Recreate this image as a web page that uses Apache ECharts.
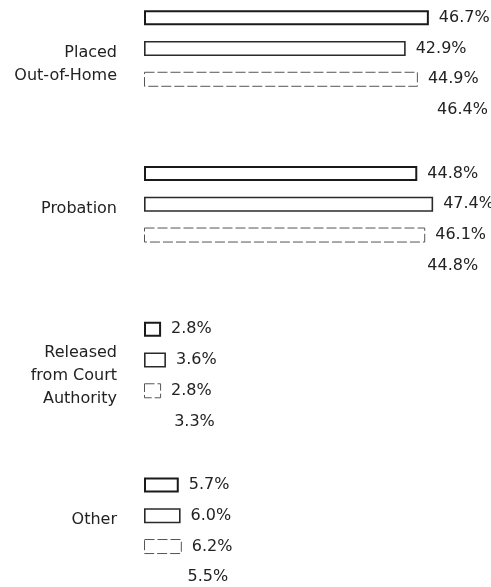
<!DOCTYPE html>
<html>
<head>
<meta charset="utf-8">
<script src="https://cdn.jsdelivr.net/npm/echarts@6/dist/echarts.min.js"></script>
<style>
  html, body { margin: 0; padding: 0; background: #fff; }
  #main { width: 491px; height: 587px; }
</style>
</head>
<body>
<div id="main"></div>
<script>
const categories = ['Placed\nOut-of-Home', 'Probation', 'Released\nfrom Court\nAuthority', 'Other']
const series1 = [46.7, 44.8, 2.8, 5.7]
const series2 = [42.9, 47.4, 3.6, 6.0]
const series3 = [44.9, 46.1, 2.8, 6.2]
const series4 = [46.4, 44.8, 3.3, 5.5]

const font = 'DejaVu Sans'

let myChart = echarts.init(document.getElementById('main'))

function barSeries (name, data, border) {
  return {
    name: name,
    type: 'bar',
    data: data,
    barGap: '105%',
    barCategoryGap: '31%',
    itemStyle: {
      color: border ? '#fff' : 'transparent',
      borderColor: border ? border.color : 'transparent',
      borderWidth: border ? border.width : 0,
      borderType: border ? border.type : 'solid'
    },
    label: {
      show: true,
      position: 'right',
      distance: 10,
      color: '#222',
      fontFamily: font,
      fontSize: 16,
      formatter: p => p.value.toFixed(1) + '%'
    },
    silent: true
  }
}

myChart.setOption({
  backgroundColor: '#fff',
  animation: false,
  grid: {
    left: 144,
    right: 42,
    top: -14,
    bottom: -22,
    outerBoundsMode: 'none',
    containLabel: false
  },
  xAxis: {
    type: 'value',
    min: 0,
    max: 50,
    show: false
  },
  yAxis: {
    type: 'category',
    inverse: true,
    data: categories,
    axisLine: { show: false },
    axisTick: { show: false },
    axisLabel: {
      margin: 27,
      color: '#222',
      fontFamily: font,
      fontSize: 16,
      lineHeight: 23,
      align: 'right',
      formatter: v => v.indexOf('\n') < 0 ? '{one|' + v + '}' : v,
      rich: {
        one: {
          fontFamily: font,
          fontSize: 16,
          color: '#222',
          padding: [0, 0, 22, 0]
        }
      }
    }
  },
  series: [
    barSeries('s1', series1, { color: '#1a1a1a', width: 2, type: 'solid' }),
    barSeries('s2', series2, { color: '#2a2a2a', width: 1.6, type: 'solid' }),
    barSeries('s3', series3, { color: '#555', width: 1, type: [10, 3] }),
    barSeries('s4', series4, null)
  ]
})
</script>
</body>
</html>
